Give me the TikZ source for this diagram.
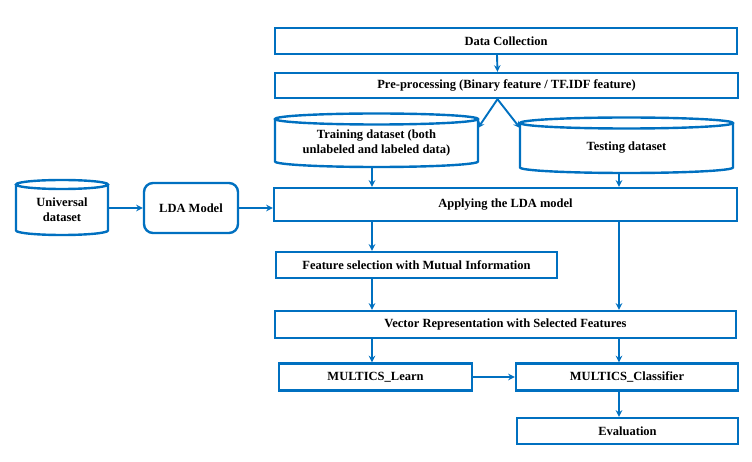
\documentclass[tikz,border=0pt]{standalone}
\usepackage{fontspec}
\setmainfont{Liberation Serif}
\definecolor{flowblue}{RGB}{0,112,192}
% cylinder round a body node: node, x radius, y radius
\newcommand\drum[3]{%
  \draw[flow] (#1.north west) -- ([yshift=#3pt]#1.south west) arc[start angle=180,end angle=360,x radius=#2pt,y radius=#3pt] -- (#1.north east);
  \draw[flow] (#1.north) ellipse[x radius=#2pt,y radius=#3pt];}
\begin{document}
\begin{tikzpicture}[x=1pt,y=1pt,>=stealth,
    flow/.style={draw=flowblue,line width=2.4pt},
    txt/.style={font=\bfseries\fontsize{12.5}{15}\selectfont,align=center},
    box/.style={flow,txt,rectangle,minimum height=26pt,inner sep=1pt},
    body/.style={txt,rectangle,outer sep=0pt,inner sep=0pt},
    arr/.style={->,draw=flowblue,line width=1.9pt}]
    \useasboundingbox (0,0) rectangle (752,461);
    % columns of the arrows
    \coordinate (lc) at (372,0);
    \coordinate (rc) at (619,0);
    \node[box,minimum width=462pt] (dc) at (506,420) {Data Collection};
    \node[box,minimum width=463pt,minimum height=25pt] (pre) at (506.5,375.5) {Pre-processing (Binary feature / TF.IDF feature)};
    \node[body,minimum width=203pt,minimum height=48pt] (train) at (376.5,318) {Training dataset (both\\unlabeled and labeled data)};
    \node[body,minimum width=213pt,minimum height=50pt] (test) at (626.5,313) {Testing dataset};
    \node[body,minimum width=92pt,minimum height=50.5pt] (univ) at (62,251.25) {Universal\\dataset};
    \node[box,rounded corners=9pt,minimum width=94pt,minimum height=50pt] (lda) at (191,253) {LDA Model};
    \node[box,minimum width=463pt,minimum height=33pt] (apply) at (505.5,256.5) {Applying the LDA model};
    \node[box,minimum width=281pt] (fs) at (416.5,196) {Feature selection with Mutual Information};
    \node[box,minimum width=461pt,minimum height=27pt] (vec) at (505.5,136.5) {Vector Representation with Selected Features};
    \node[box,minimum width=193pt,minimum height=27pt] (learn) at (375.5,84) {MULTICS\_Learn};
    \node[box,minimum width=222pt,minimum height=27pt] (clf) at (627,84) {MULTICS\_Classifier};
    \node[box,minimum width=221pt] (eval) at (627.5,30) {Evaluation};
    \drum{train}{101.5}{5.5}
    \drum{test}{106.5}{5.5}
    \drum{univ}{46}{4.5}
    % arrows
    \draw[arr] ([xshift=-9pt]dc.south) -- ([xshift=-9pt]pre.north);
    \draw[arr] ([xshift=-9pt]pre.south) -- ([yshift=-9pt]train.north east);
    \draw[arr] ([xshift=-9pt]pre.south) -- ([yshift=-5pt]test.north west);
    \draw[arr] (train.south -| lc) -- (apply.north -| lc);
    \draw[arr] (test.south -| rc) -- (apply.north -| rc);
    \draw[arr] (univ.east |- lda.west) -- (lda.west);
    \draw[arr] (lda.east) -- (lda.east -| apply.west);
    \draw[arr] (apply.south -| lc) -- (fs.north -| lc);
    \draw[arr] (fs.south -| lc) -- (vec.north -| lc);
    \draw[arr] (apply.south -| rc) -- (vec.north -| rc);
    \draw[arr] (vec.south -| lc) -- (learn.north -| lc);
    \draw[arr] (vec.south -| rc) -- (clf.north -| rc);
    \draw[arr] (learn) -- (clf);
    \draw[arr] (clf.south -| rc) -- (eval.north -| rc);
\end{tikzpicture}
\end{document}
